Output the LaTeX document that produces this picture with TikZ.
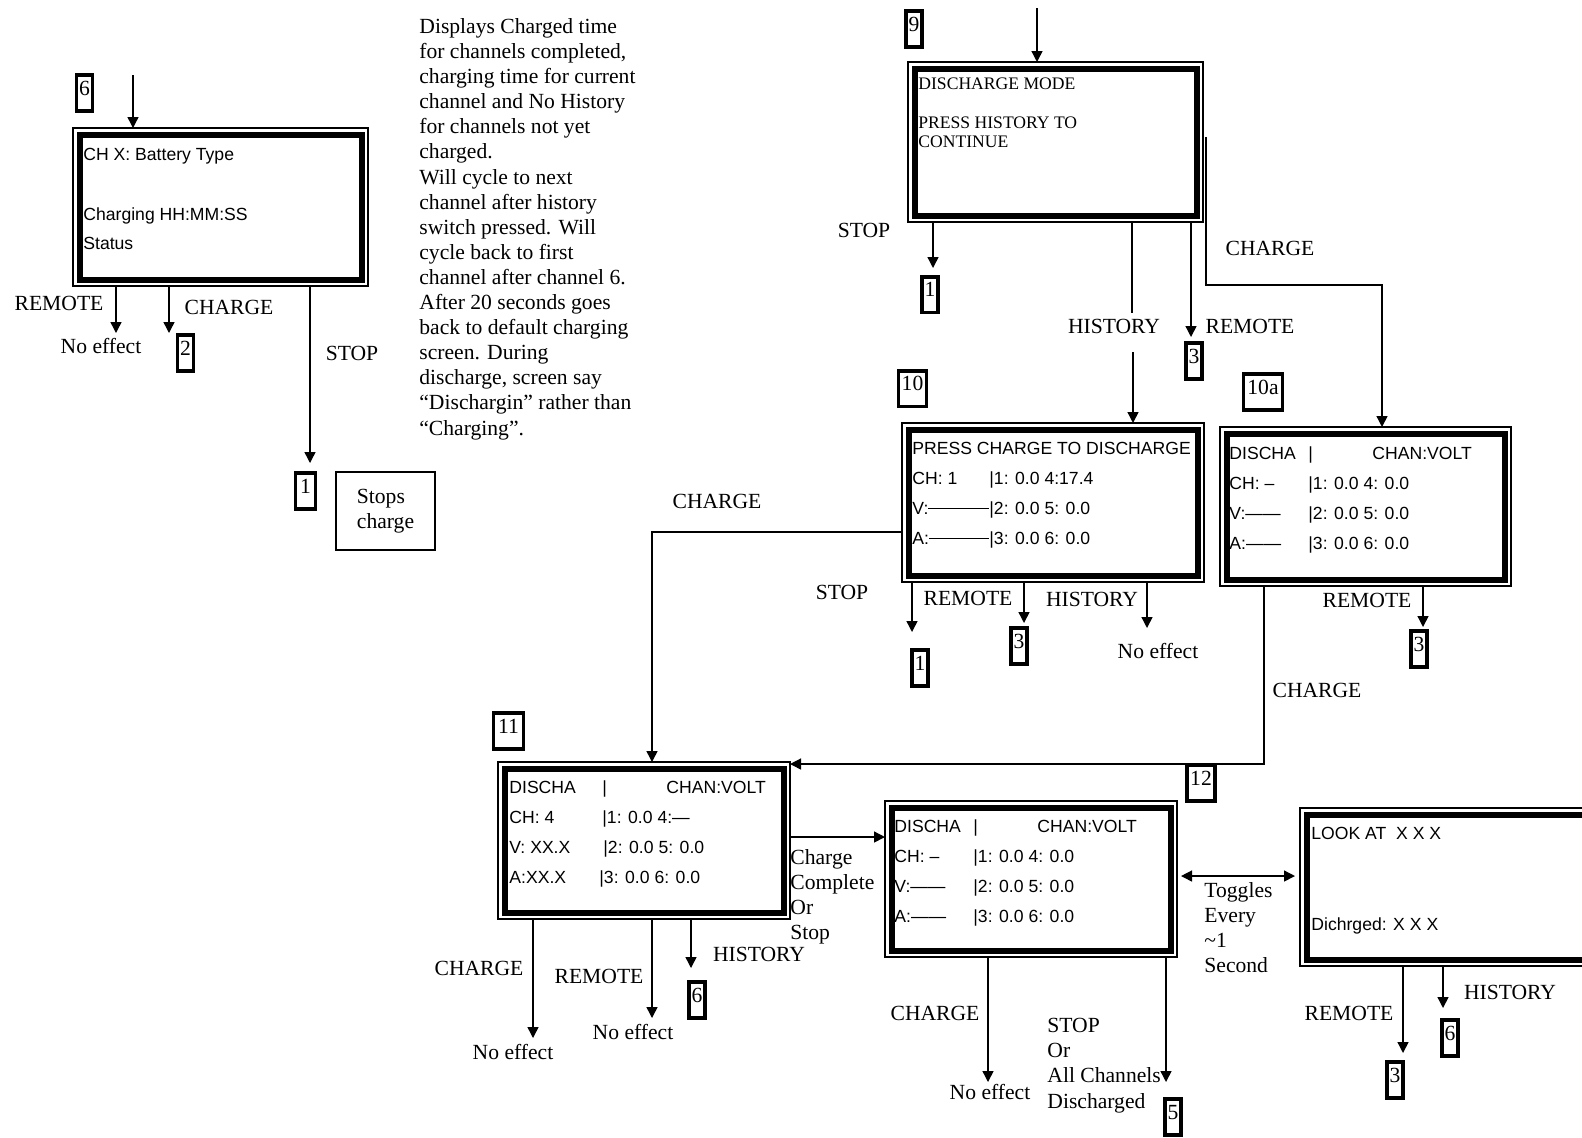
\documentclass[tikz,border=0pt]{standalone}
\usepackage{fontspec}
\setmainfont{Liberation Serif}
\newfontfamily\lcdfont{Liberation Sans}
\usetikzlibrary{arrows.meta}
\newcommand\lcdfill{\leaders\hrule height 0.36em depth -0.29em\hfill}
\tikzset{
  screen/.style={draw, line width=0.6pt, inner sep=0pt, outer sep=0pt},
  lcd/.style={font=\lcdfont\fontsize{8.8}{15}\selectfont, align=left, anchor=north west, inner sep=0pt},
  tag/.style={draw, line width=1.8pt, font=\fontsize{10.8}{12}\selectfont, inner xsep=1pt, inner ysep=0.5pt,
    text height=9.5pt, text depth=7.3pt, minimum width=8pt, outer sep=0pt},
  lbl/.style={font=\fontsize{10.8}{12.55}\selectfont, inner sep=0pt},
  note/.style={lbl, align=left, anchor=north west},
  link/.style={line width=0.7pt},
}
\begin{document}
\begin{tikzpicture}[x=0.5pt, y=-0.5pt, >={Triangle[length=5.5pt,width=5.5pt]}]
  \useasboundingbox (0,0) rectangle (1582,1137);
  \clip (0,0) rectangle (1582,1137);
  % screens
  \node[screen, minimum width=147.5pt, minimum height=79pt] (s6) at (220.5,207) {};
  \node[screen, minimum width=147.5pt, minimum height=80pt] (s9) at (1055.5,142) {};
  \node[screen, minimum width=151pt, minimum height=79.5pt] (s10) at (1053,502.5) {};
  \node[screen, minimum width=145.5pt, minimum height=79.5pt] (s10a) at (1365.5,506.5) {};
  \node[screen, minimum width=146pt, minimum height=78.5pt] (s11) at (644,840.5) {};
  \node[screen, minimum width=146pt, minimum height=78pt] (s12) at (1031,879) {};
  \node[screen, minimum width=155pt, minimum height=79pt] (s13) at (1455,887) {};
  \foreach \s in {s6,s9,s10,s10a,s11,s12,s13}
    \draw[line width=3pt] ([shift={(3.25pt,-3.25pt)}]\s.north west) rectangle ([shift={(-3.25pt,3.25pt)}]\s.south east);

  \node[lcd, font=\lcdfont\fontsize{8.8}{14.5}\selectfont] (t6) at (83,147.5)
    {CH X: Battery Type\\[15.5pt]Charging HH:MM:SS\\Status};
  \node[lcd, font=\fontsize{8.8}{9.5}\selectfont] (t9) at (918,77)
    {DISCHARGE MODE\\[10pt]PRESS HISTORY TO\\CONTINUE};
  \node[lcd] (t10) at (912,441.5) {PRESS CHARGE TO DISCHARGE\\
    \makebox[38.5pt][l]{CH: 1}|1: 0.0 4:17.4\\
    \makebox[38.5pt][s]{V:\lcdfill}|2: 0.0 5: 0.0\\
    \makebox[38.5pt][s]{A:\lcdfill}|3: 0.0 6: 0.0};
  \node[lcd] (t10a) at (1229,446.5) {\makebox[39.5pt][l]{DISCHA}\makebox[32pt][l]{|}CHAN:VOLT\\
    \makebox[39.5pt][l]{CH: –}|1: 0.0 4: 0.0\\
    \makebox[39.5pt][l]{V:——}|2: 0.0 5: 0.0\\
    \makebox[39.5pt][l]{A:——}|3: 0.0 6: 0.0};
  \node[lcd] (t11) at (509,780.5) {\makebox[46.5pt][l]{DISCHA}\makebox[32pt][l]{|}CHAN:VOLT\\
    \makebox[46.5pt][l]{CH: 4}|1: 0.0 4:—\\
    \makebox[47pt][l]{V: XX.X}|2: 0.0 5: 0.0\\
    \makebox[45pt][l]{A:XX.X}|3: 0.0 6: 0.0};
  \node[lcd] (t12) at (894,819.5) {\makebox[39.5pt][l]{DISCHA}\makebox[32pt][l]{|}CHAN:VOLT\\
    \makebox[39.5pt][l]{CH: –}|1: 0.0 4: 0.0\\
    \makebox[39.5pt][l]{V:——}|2: 0.0 5: 0.0\\
    \makebox[39.5pt][l]{A:——}|3: 0.0 6: 0.0};
  \node[lcd] (t13) at (1311,826.5) {LOOK AT\ \ X X X\\[30.5pt]Dichrged: X X X};

  % tags
  \node[tag] (tg6a) at (84.5,93) {6};
  \node[tag] (tg2) at (185.5,353) {2};
  \node[tag, minimum width=10pt] (tg1a) at (305.5,491) {1};
  \node[tag] (tg9) at (914,29) {9};
  \node[tag] (tg1b) at (930,294.5) {1};
  \node[tag] (tg3a) at (1194,361) {3};
  \node[tag, minimum width=14pt] (tg10) at (912.5,388.5) {10};
  \node[tag] (tg1c) at (920,668) {1};
  \node[tag] (tg3b) at (1019,646) {3};
  \node[tag, minimum width=19.5pt] (tg10a) at (1263,392) {10a};
  \node[tag] (tg3c) at (1419,649) {3};
  \node[tag, minimum width=14pt] (tg12) at (1201,783) {12};
  \node[tag, minimum width=15pt] (tg11) at (508.5,731) {11};
  \node[tag] (tg6b) at (697,1000) {6};
  \node[tag] (tg5) at (1173,1117) {5};
  \node[tag] (tg3d) at (1395,1080) {3};
  \node[tag] (tg6c) at (1450,1038) {6};

  % labels
  \node[note] (info) at (419,18) {Displays Charged time\\for channels completed,\\charging time for current\\channel and No History\\for channels not yet\\charged.\\Will cycle to next\\channel after history\\switch pressed. Will\\cycle back to first\\channel after channel 6.\\After 20 seconds goes\\back to default charging\\screen. During\\discharge, screen say\\“Dischargin” rather than\\“Charging”.};
  \node[lbl] (r6) at (59,303) {REMOTE};
  \node[lbl] (n6) at (101,346) {No effect};
  \node[lbl] (c6) at (229,307) {CHARGE};
  \node[lbl] (p6) at (352,353) {STOP};
  \node[lbl, draw, line width=0.6pt, align=left, minimum width=49.5pt, minimum height=39pt] (stops) at (385.5,511) {Stops\\charge};
  \node[lbl] (p9) at (864,230) {STOP};
  \node[lbl] (h9) at (1114,326) {HISTORY};
  \node[lbl] (r9) at (1250,326) {REMOTE};
  \node[lbl] (c9) at (1270,248) {CHARGE};
  \node[lbl] (c10) at (717,501) {CHARGE};
  \node[lbl] (p10) at (842,592) {STOP};
  \node[lbl] (r10) at (968,598) {REMOTE};
  \node[lbl] (h10) at (1092,599) {HISTORY};
  \node[lbl] (n10) at (1158,651) {No effect};
  \node[lbl] (r10a) at (1367,600) {REMOTE};
  \node[lbl] (c10a) at (1317,690) {CHARGE};
  \node[lbl] (c11) at (479,968) {CHARGE};
  \node[lbl] (n11a) at (513,1052) {No effect};
  \node[lbl] (r11) at (599,976) {REMOTE};
  \node[lbl] (n11b) at (633,1032) {No effect};
  \node[lbl] (h11) at (759,954) {HISTORY};
  \node[note] (done11) at (790,849) {Charge\\Complete\\Or\\Stop};
  \node[lbl] (c12) at (935,1013) {CHARGE};
  \node[lbl] (n12) at (990,1092) {No effect};
  \node[note] (p12) at (1047,1018) {STOP\\Or\\All Channels\\Discharged};
  \node[note] (tog) at (1204,882) {Toggles\\Every\\\textasciitilde1\\Second};
  \node[lbl] (r13) at (1349,1013) {REMOTE};
  \node[lbl] (h13) at (1510,992) {HISTORY};

  % connector ends
  \coordinate (in6) at (133,75);
  \coordinate (a6r) at (116,333);
  \coordinate (a6c) at (169,333);
  \coordinate (a6s) at (310,463);
  \coordinate (in9) at (1037,8);
  \coordinate (a9s) at (933,268);
  \coordinate (h9a) at (1132,313);
  \coordinate (h9b) at (1133,352);
  \coordinate (a9r) at (1191,337);
  \coordinate (k9a) at (1206,137);
  \coordinate (k9b) at (1382,285);
  \coordinate (k10) at (652,532);
  \coordinate (a10s) at (912,632);
  \coordinate (a10r) at (1024,623);
  \coordinate (a10h) at (1147,628);
  \coordinate (a10ar) at (1423,627);
  \coordinate (k10a) at (1264,764);
  \coordinate (a11c) at (533,1038);
  \coordinate (a11r) at (652,1018);
  \coordinate (a11h) at (691,968);
  \coordinate (k11) at (790,837);
  \coordinate (k12) at (1181,876);
  \coordinate (a12c) at (988,1082);
  \coordinate (a12s) at (1166,1082);
  \coordinate (a13r) at (1403,1053);
  \coordinate (a13h) at (1443,1008);

  \draw[link,->] (in6) -- (in6 |- s6.north);
  \draw[link,->] (s6.south -| a6r) -- (a6r);
  \draw[link,->] (s6.south -| a6c) -- (a6c);
  \draw[link,->] (s6.south -| a6s) -- (a6s);
  \draw[link,->] (in9) -- (in9 |- s9.north);
  \draw[link,->] (s9.south -| a9s) -- (a9s);
  \draw[link] (s9.south -| h9a) -- (h9a);
  \draw[link,->] (h9b) -- (h9b |- s10.north);
  \draw[link,->] (s9.south -| a9r) -- (a9r);
  \draw[link,->] (k9a) |- (k9b) -- (k9b |- s10a.north);
  \draw[link,->] (s10.west |- k10) -- (k10) -- (k10 |- s11.north);
  \draw[link,->] (s10.south -| a10s) -- (a10s);
  \draw[link,->] (s10.south -| a10r) -- (a10r);
  \draw[link,->] (s10.south -| a10h) -- (a10h);
  \draw[link,->] (s10a.south -| a10ar) -- (a10ar);
  \draw[link,->] (s10a.south -| k10a) -- (k10a) -- (k10a -| s11.east);
  \draw[link,->] (s11.south -| a11c) -- (a11c);
  \draw[link,->] (s11.south -| a11r) -- (a11r);
  \draw[link,->] (s11.south -| a11h) -- (a11h);
  \draw[link,->] (k11) -- (k11 -| s12.west);
  \draw[link,<->,shorten >=2.5pt] (k12) -- (k12 -| s13.west);
  \draw[link,->] (s12.south -| a12c) -- (a12c);
  \draw[link,->] (s12.south -| a12s) -- (a12s);
  \draw[link,->] (s13.south -| a13r) -- (a13r);
  \draw[link,->] (s13.south -| a13h) -- (a13h);
\end{tikzpicture}
\end{document}
